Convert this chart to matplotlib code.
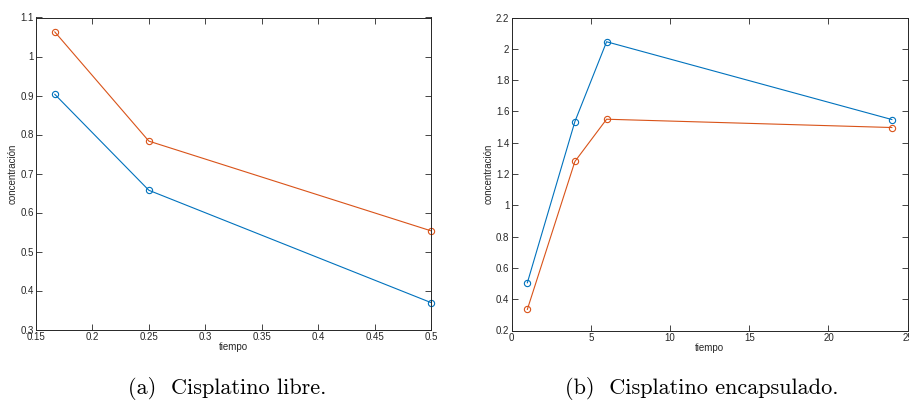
import matplotlib.pyplot as plt
from matplotlib.ticker import FixedLocator, FixedFormatter

BLUE = "#0072BD"
ORANGE = "#D95319"
GREY = "#262626"

# panel (a): cisplatino libre
libre_t = [1 / 6, 0.25, 0.5]
libre_blue = [0.903, 0.657, 0.369]
libre_orange = [1.063, 0.783, 0.553]
libre_xticks = [0.15, 0.2, 0.25, 0.3, 0.35, 0.4, 0.45, 0.5]
libre_xlabels = ["0.15", "0.2", "0.25", "0.3", "0.35", "0.4", "0.45", "0.5"]
libre_yticks = [0.3, 0.4, 0.5, 0.6, 0.7, 0.8, 0.9, 1.0, 1.1]
libre_ylabels = ["0.3", "0.4", "0.5", "0.6", "0.7", "0.8", "0.9", "1", "1.1"]

# panel (b): cisplatino encapsulado
encap_t = [1, 4, 6, 24]
encap_blue = [0.505, 1.535, 2.045, 1.548]
encap_orange = [0.335, 1.28, 1.55, 1.497]
encap_xticks = [0, 5, 10, 15, 20, 25]
encap_xlabels = ["0", "5", "10", "15", "20", "25"]
encap_yticks = [0.2, 0.4, 0.6, 0.8, 1.0, 1.2, 1.4, 1.6, 1.8, 2.0, 2.2]
encap_ylabels = ["0.2", "0.4", "0.6", "0.8", "1", "1.2", "1.4", "1.6", "1.8", "2", "2.2"]

plt.rcParams["font.family"] = ["Liberation Sans", "DejaVu Sans"]


def style_axes(ax, xticks, xlabels, yticks, ylabels, xlim, ylim):
    ax.set_xlim(*xlim)
    ax.set_ylim(*ylim)
    ax.xaxis.set_major_locator(FixedLocator(xticks))
    ax.xaxis.set_major_formatter(FixedFormatter(xlabels))
    ax.yaxis.set_major_locator(FixedLocator(yticks))
    ax.yaxis.set_major_formatter(FixedFormatter(ylabels))
    ax.tick_params(direction="in", length=4, width=0.6, colors=GREY,
                   labelsize=7, pad=1.5, top=True, right=True)
    for spine in ax.spines.values():
        spine.set_color(GREY)
        spine.set_linewidth(0.7)
    ax.set_xlabel("tiempo", fontsize=7, color=GREY, labelpad=0.5)
    ax.set_ylabel("concentración", fontsize=7, color=GREY, labelpad=2)


def draw_series(ax, x, y, color):
    ax.plot(x, y, color=color, linewidth=0.8, marker="o", markersize=4.5,
            markerfacecolor="none", markeredgewidth=0.8, clip_on=False)


fig = plt.figure(figsize=(9.09, 4.01), dpi=100)

ax_a = fig.add_axes([36 / 909, 1 - 329.5 / 401, (431 - 36) / 909, (329.5 - 17.5) / 401])
draw_series(ax_a, libre_t, libre_blue, BLUE)
draw_series(ax_a, libre_t, libre_orange, ORANGE)
style_axes(ax_a, libre_xticks, libre_xlabels, libre_yticks, libre_ylabels,
           (0.15, 0.5), (0.3, 1.1))

ax_b = fig.add_axes([511.5 / 909, 1 - 330.5 / 401, (907.7 - 511.5) / 909, (330.5 - 17.5) / 401])
draw_series(ax_b, encap_t, encap_blue, BLUE)
draw_series(ax_b, encap_t, encap_orange, ORANGE)
style_axes(ax_b, encap_xticks, encap_xlabels, encap_yticks, encap_ylabels,
           (0, 25), (0.2, 2.2))

fig.text(227.5 / 909, 1 - 394 / 401, "(a)  Cisplatino libre.", family="cmr10",
         fontsize=16, ha="center", va="baseline")
fig.text(702 / 909, 1 - 394 / 401, "(b)  Cisplatino encapsulado.", family="cmr10",
         fontsize=16, ha="center", va="baseline")

fig.savefig("out.png", dpi=100)
